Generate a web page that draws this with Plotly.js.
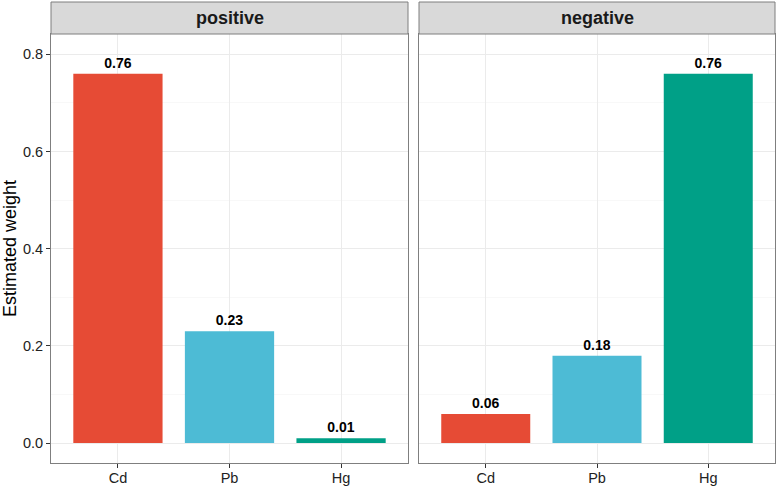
<!DOCTYPE html>
<html>
<head>
<meta charset="utf-8">
<script src="https://cdn.plot.ly/plotly-3.0.1.min.js"></script>
<style>html,body{margin:0;padding:0;background:#fff;}#chart{width:777px;height:487px;}</style>
</head>
<body>
<div id="chart"></div>
<script>
const categories = ['Cd', 'Pb', 'Hg'];
const positiveWeights = [0.76, 0.23, 0.01];
const negativeWeights = [0.06, 0.18, 0.76];
const panelTitles = ['positive', 'negative'];
const yTickValues = [0, 0.2, 0.4, 0.6, 0.8];
const barColors = ['#E64B35', '#4DBBD5', '#00A087'];

const FONT = 'Liberation Sans, Arial, sans-serif';
const labelFont = {family: FONT, size: 14, color: '#000', weight: 'bold'};

function barTrace(values, xa, ya) {
  return {
    type: 'bar', x: categories, y: values, xaxis: xa, yaxis: ya,
    width: 0.8,
    marker: {color: barColors, line: {width: 0}},
    text: values.map(v => '<b>' + v.toFixed(2) + '</b>'),
    textposition: 'outside', textfont: labelFont, constraintext: 'none',
    cliponaxis: false, hoverinfo: 'skip', showlegend: false
  };
}

const W = 777, H = 487, mL = 51, mR = 2, mT = 34, mB = 24;
const pw = W - mL - mR, ph = H - mT - mB;
const d1 = [0, (408 - mL) / pw];
const d2 = [(419 - mL) / pw, 1];
const stripTop = 1 + 32 / ph;

const borderColor = '#7f7f7f';
const xaxisBase = {
  type: 'category', range: [-0.6, 2.6], showgrid: true, gridcolor: '#EBEBEB', gridwidth: 1,
  showline: true, mirror: true, linecolor: borderColor, linewidth: 1,
  ticks: 'outside', ticklen: 4, tickcolor: '#333', zeroline: false, ticklabelstandoff: -2,
  tickfont: {family: FONT, size: 14.5, color: '#222'}, fixedrange: true
};
const yaxisBase = {
  range: [-0.041, 0.842], tickvals: yTickValues, ticktext: yTickValues.map(v => v.toFixed(1)),
  showgrid: true, gridcolor: '#EBEBEB', gridwidth: 1,
  minor: {dtick: 0.1, tick0: 0.1, showgrid: true, gridcolor: '#F4F4F4', gridwidth: 0.6, ticks: ''},
  showline: true, mirror: true, linecolor: borderColor, linewidth: 1, zeroline: false,
  tickfont: {family: FONT, size: 14.5, color: '#222'}, fixedrange: true
};

const layout = {
  width: W, height: H,
  margin: {l: mL, r: mR, t: mT, b: mB, pad: 0},
  paper_bgcolor: '#fff', plot_bgcolor: '#fff',
  bargap: 0.2,
  xaxis: Object.assign({}, xaxisBase, {domain: d1, anchor: 'y'}),
  xaxis2: Object.assign({}, xaxisBase, {domain: d2, anchor: 'y2'}),
  yaxis: Object.assign({}, yaxisBase, {domain: [0, 1], anchor: 'x', ticks: 'outside', ticklen: 4, tickcolor: '#333',
    title: {text: 'Estimated weight', font: {family: FONT, size: 18, color: '#000'}, standoff: 4}}),
  yaxis2: Object.assign({}, yaxisBase, {domain: [0, 1], anchor: 'x2', showticklabels: false, ticks: ''}),
  shapes: [
    {type: 'rect', xref: 'paper', yref: 'paper', x0: d1[0], x1: d1[1], y0: 1, y1: stripTop,
     fillcolor: '#D9D9D9', line: {color: borderColor, width: 1}, layer: 'above'},
    {type: 'rect', xref: 'paper', yref: 'paper', x0: d2[0], x1: d2[1], y0: 1, y1: stripTop,
     fillcolor: '#D9D9D9', line: {color: borderColor, width: 1}, layer: 'above'}
  ],
  annotations: [
    {xref: 'paper', yref: 'paper', x: (d1[0] + d1[1]) / 2, y: (1 + stripTop) / 2, text: '<b>' + panelTitles[0] + '</b>',
     showarrow: false, xanchor: 'center', yanchor: 'middle', font: {family: FONT, size: 18, color: '#1A1A1A'}},
    {xref: 'paper', yref: 'paper', x: (d2[0] + d2[1]) / 2, y: (1 + stripTop) / 2, text: '<b>' + panelTitles[1] + '</b>',
     showarrow: false, xanchor: 'center', yanchor: 'middle', font: {family: FONT, size: 18, color: '#1A1A1A'}}
  ]
};

Plotly.newPlot('chart', [barTrace(positiveWeights, 'x', 'y'), barTrace(negativeWeights, 'x2', 'y2')], layout,
  {displayModeBar: false, staticPlot: true});
</script>
</body>
</html>
